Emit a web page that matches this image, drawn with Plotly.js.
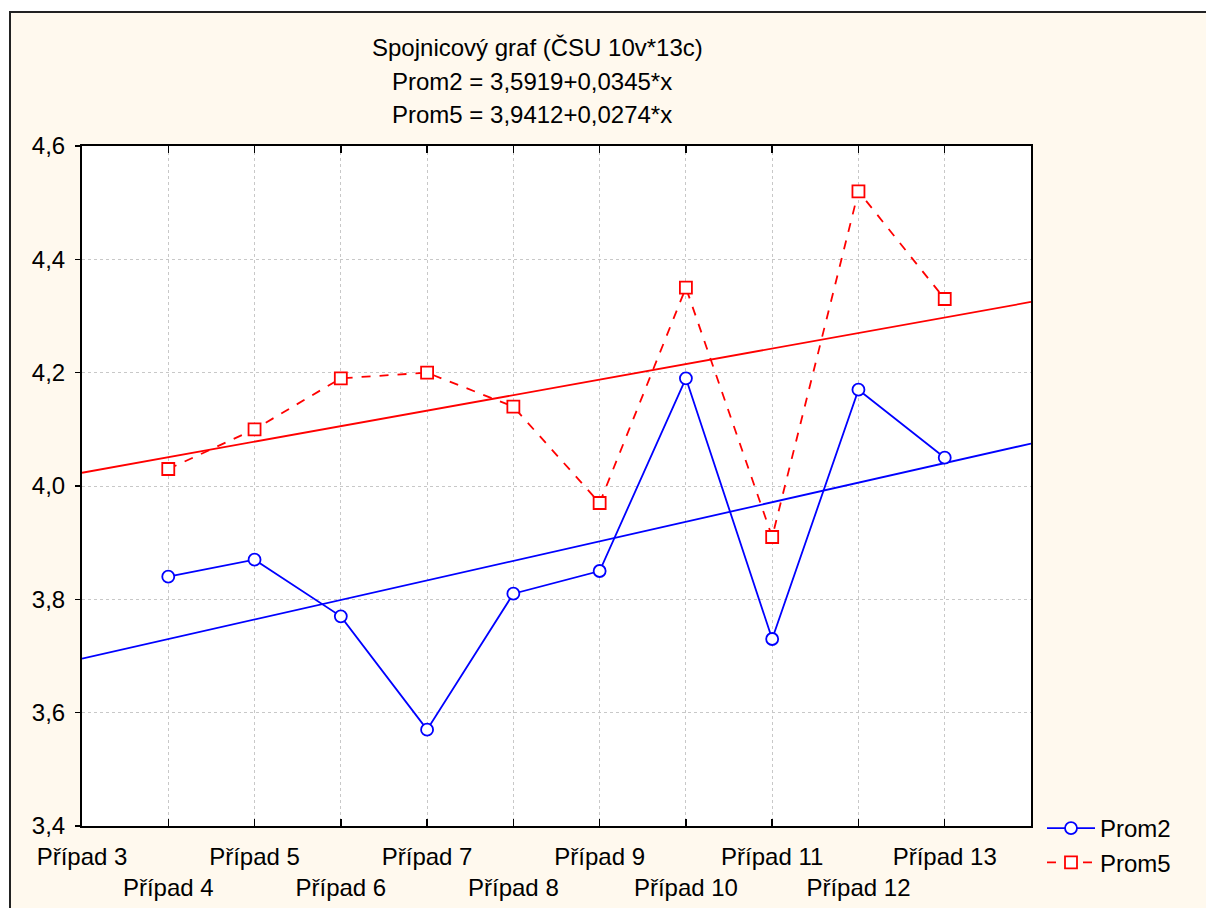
<!DOCTYPE html>
<html>
<head>
<meta charset="utf-8">
<script src="https://cdn.plot.ly/plotly-3.0.1.min.js"></script>
<style>html,body{margin:0;padding:0;background:#fff;}#chart{width:1206px;height:908px;}</style>
</head>
<body>
<div id="chart"></div>
<script>
// Case numbers (x positions) and labels
var caseNums = [4, 5, 6, 7, 8, 9, 10, 11, 12, 13];
var tickNums = [3, 4, 5, 6, 7, 8, 9, 10, 11, 12, 13];
var tickLabels = ["Případ 3", "<br>Případ 4", "Případ 5", "<br>Případ 6", "Případ 7", "<br>Případ 8",
                  "Případ 9", "<br>Případ 10", "Případ 11", "<br>Případ 12", "Případ 13"];
var yTicks = [3.4, 3.6, 3.8, 4.0, 4.2, 4.4, 4.6];
var yTickLabels = ["3,4", "3,6", "3,8", "4,0", "4,2", "4,4", "4,6"];

// Series values
var prom2 = [3.84, 3.87, 3.77, 3.57, 3.81, 3.85, 4.19, 3.73, 4.17, 4.05];
var prom5 = [4.03, 4.10, 4.19, 4.20, 4.14, 3.97, 4.35, 3.91, 4.52, 4.33];

// Regression lines (from chart title)
var fitX = [3, 14];
var prom2Fit = [3.5919 + 0.0345 * 3, 3.5919 + 0.0345 * 14];
var prom5Fit = [3.9412 + 0.0274 * 3, 3.9412 + 0.0274 * 14];

var titleLines = ["Spojnicový graf (ČSU 10v*13c)", "Prom2 = 3,5919+0,0345*x", "Prom5 = 3,9412+0,0274*x"];

var FONT = "Liberation Sans, Arial, sans-serif";
var FS = 24;

var traces = [
  {x: fitX, y: prom5Fit, mode: "lines", line: {color: "#FF0000", width: 1.8}, showlegend: false, hoverinfo: "skip"},
  {x: fitX, y: prom2Fit, mode: "lines", line: {color: "#0000FF", width: 1.8}, showlegend: false, hoverinfo: "skip"},
  {x: caseNums, y: prom2, name: "Prom2", mode: "lines+markers",
   line: {color: "#0000FF", width: 1.8},
   marker: {symbol: "circle", size: 12, color: "#FFFFFF", line: {color: "#0000FF", width: 1.8}}},
  {x: caseNums, y: prom5, name: "Prom5", mode: "lines+markers",
   line: {color: "#FF0000", width: 1.8, dash: "dash"},
   marker: {symbol: "square", size: 12, color: "#FFFFFF", line: {color: "#FF0000", width: 1.8}}}
];

function px2x(p) { return (p - 82) / 949; }
function py2y(p) { return (826 - p) / 680; }

var layout = {
  width: 1206, height: 908,
  margin: {l: 82, r: 175, t: 146, b: 82, pad: 0},
  paper_bgcolor: "#FFF9EE",
  plot_bgcolor: "#FFFFFF",
  font: {family: FONT, size: FS, color: "#000000"},
  showlegend: true,
  legend: {x: px2x(1042), y: py2y(806), xanchor: "left", yanchor: "top",
           bgcolor: "rgba(0,0,0,0)", font: {family: FONT, size: FS, color: "#000"},
           itemwidth: 48, tracegroupgap: 0},
  xaxis: {range: [3, 14], tickmode: "array", tickvals: tickNums, ticktext: tickLabels,
          showgrid: true, gridcolor: "#C8C8C8", griddash: "dot", gridwidth: 1,
          zeroline: false, showline: true, linecolor: "#000", linewidth: 2, mirror: "ticks",
          ticks: "inside", ticklen: 7, tickwidth: 1.5, tickcolor: "#000", ticklabelstandoff: 8,
          tickfont: {family: FONT, size: FS, color: "#000"}, tickangle: 0, fixedrange: true},
  yaxis: {range: [3.4, 4.6], tickmode: "array", tickvals: yTicks, ticktext: yTickLabels,
          showgrid: true, gridcolor: "#C8C8C8", griddash: "dot", gridwidth: 1,
          zeroline: false, showline: true, linecolor: "#000", linewidth: 2, mirror: true,
          ticks: "outside", ticklen: 5, tickwidth: 1.5, tickcolor: "#000", ticklabelstandoff: 5,
          tickfont: {family: FONT, size: FS, color: "#000"}, fixedrange: true},
  annotations: [
    {text: titleLines[0], xref: "paper", yref: "paper", x: px2x(537), y: py2y(47), xanchor: "center", yanchor: "middle", showarrow: false, font: {family: FONT, size: FS, color: "#000"}},
    {text: titleLines[1], xref: "paper", yref: "paper", x: px2x(532), y: py2y(82), xanchor: "center", yanchor: "middle", showarrow: false, font: {family: FONT, size: FS, color: "#000"}},
    {text: titleLines[2], xref: "paper", yref: "paper", x: px2x(532), y: py2y(115), xanchor: "center", yanchor: "middle", showarrow: false, font: {family: FONT, size: FS, color: "#000"}}
  ],
  shapes: [
    {type: "rect", xref: "paper", yref: "paper", x0: px2x(-5), x1: px2x(1215), y0: py2y(11), y1: py2y(-5), fillcolor: "#FFFFFF", line: {width: 0}},
    {type: "rect", xref: "paper", yref: "paper", x0: px2x(-5), x1: px2x(9), y0: py2y(915), y1: py2y(-5), fillcolor: "#FFFFFF", line: {width: 0}},
    {type: "rect", xref: "paper", yref: "paper", x0: px2x(10), x1: px2x(1220), y0: py2y(920), y1: py2y(12), fillcolor: "rgba(0,0,0,0)", line: {color: "#222", width: 2}}
  ]
};

Plotly.newPlot("chart", traces, layout, {displayModeBar: false, staticPlot: true});
</script>
</body>
</html>
